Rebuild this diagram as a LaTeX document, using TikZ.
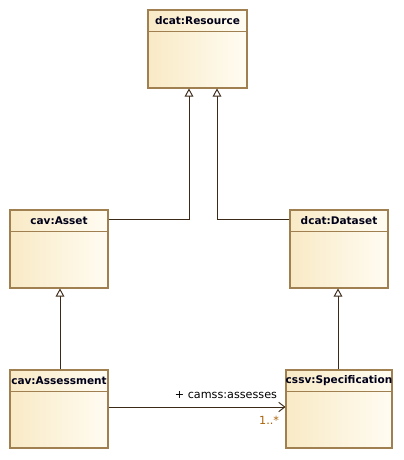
\documentclass[tikz,border=0pt]{standalone}
\usepackage{fontspec}
\setmainfont{DejaVu Sans}
\usetikzlibrary{arrows.meta,shadows}
\definecolor{umlborder}{RGB}{160,128,80}
\definecolor{umlleft}{RGB}{249,234,198}
\definecolor{umlright}{RGB}{255,252,242}
\definecolor{umlline}{RGB}{60,42,25}
\definecolor{multcol}{RGB}{170,100,10}
\tikzset{
  cls/.style={draw=umlborder, line width=0.8pt, left color=umlleft, right color=umlright,
    minimum height=58.5pt, inner sep=0pt,
    drop shadow={shadow xshift=0.9pt, shadow yshift=-0.9pt, fill=black!45, opacity=0.6}},
  ttl/.style={font=\bfseries\fontsize{7.9}{9}\selectfont, text=black!90!blue, inner sep=0pt},
  hdr/.style={draw=umlborder, line width=0.8pt},
  gen/.style={draw=umlline, line width=0.7pt, -{Triangle[open,length=6pt,width=6.5pt,fill=white]}},
  assoc/.style={draw=umlline, line width=0.7pt, -{Straight Barb[length=4.5pt,width=7pt]}},
  lbl/.style={font=\fontsize{8.4}{10}\selectfont, inner sep=0pt}
}
\begin{document}
\begin{tikzpicture}[x=0.75pt,y=-0.75pt]
\useasboundingbox (0,0) rectangle (403,460);
% classes
\node[cls, minimum width=74.25pt] (res) at (197.5,49) {};
\node[cls, minimum width=73.5pt] (asset) at (59,249) {};
\node[cls, minimum width=73.5pt] (dataset) at (339,249) {};
\node[cls, minimum width=73.5pt] (assess) at (59,409) {};
\node[cls, minimum width=79.5pt] (spec) at (339,409) {};
% titles and header lines
\foreach \n/\t in {res/dcat:Resource, asset/cav:Asset, dataset/dcat:Dataset, assess/cav:Assessment, spec/cssv:Specification}{
  \node[ttl] (\n-t) at ([yshift=-8.25pt]\n.north) {\t};
  \draw[hdr] ([yshift=-16.5pt]\n.north west) -- ([yshift=-16.5pt]\n.north east);
}
% generalizations
\draw[gen] ([yshift=-7.5pt]asset.north east) -| ([xshift=-6.375pt]res.south);
\draw[gen] ([yshift=-7.5pt]dataset.north west) -| ([xshift=14.625pt]res.south);
\draw[gen] ([xshift=0.75pt]assess.north) -- ([xshift=0.75pt]asset.south);
\draw[gen] ([xshift=-0.75pt]spec.north) -- ([xshift=-0.75pt]dataset.south);
% association
\draw[assoc] ([yshift=1.5pt]assess.east) -- ([yshift=1.5pt]spec.west)
  node[lbl, pos=1, anchor=south east, xshift=-6pt, yshift=6pt] (role) {+ camss:assesses}
  node[lbl, pos=1, anchor=north east, text=multcol, xshift=-4.5pt, yshift=-6.5pt] (mult) {1..*};
\end{tikzpicture}
\end{document}
